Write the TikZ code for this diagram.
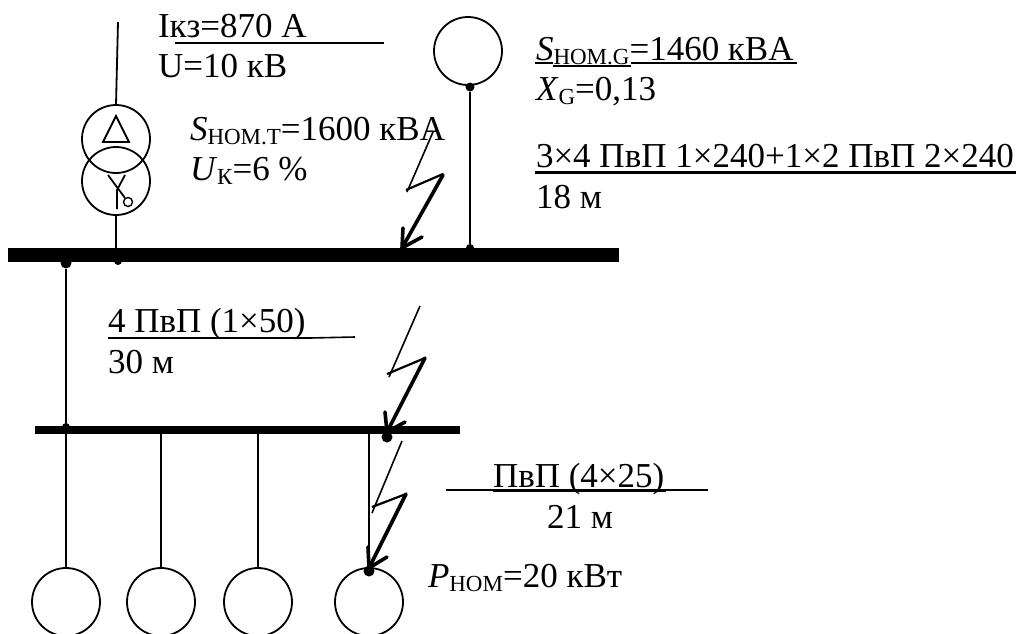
\documentclass[tikz,border=0pt]{standalone}
\usepackage{fontspec}
\setmainfont[Kerning=Off]{Liberation Serif}
\newcommand{\subt}[1]{\raisebox{-0.14em}{\fontsize{23}{25}\selectfont #1}}
\tikzset{
  lbl/.style={anchor=base west,inner sep=0pt,outer sep=0pt,font=\fontsize{35}{38}\selectfont},
  wire/.style={draw=black,line width=1.8pt},
  bus/.style={fill=black,draw=none},
  sym/.style={draw=black,line width=1.8pt,circle,minimum size=68pt,inner sep=0pt,outer sep=0pt},
  joint/.style={fill=black,draw=none,circle,inner sep=0pt},
  rule/.style={draw=black,line width=1.6pt},
  boldrule/.style={draw=black,line width=2.4pt},
  boltthin/.style={draw=black,line width=1.6pt},
  boltmid/.style={draw=black,line width=2.2pt},
  boltthick/.style={draw=black,line width=3.6pt,line cap=round,line join=round},
}
\begin{document}
\begin{tikzpicture}[x=1pt,y=-1pt]
\useasboundingbox (0,0) rectangle (1021,633);
% buses
\node[bus,anchor=north west,minimum width=611pt,minimum height=14pt,inner sep=0pt] (busa) at (8,248) {};
\node[bus,anchor=north west,minimum width=425pt,minimum height=8pt,inner sep=0pt] (busb) at (35,426) {};
% transformer
\coordinate (feed) at (118,22);
\node[sym] (tup) at (116,139) {};
\node[sym] (tlo) at (116,181) {};
\draw[wire] (feed) -- (tup.north);
\draw[wire] (tlo.south) -- (116,250);
\node[joint,minimum size=8pt] (ja) at (118,261) {};
\draw[wire,line join=miter] (116,116) -- (103,142) -- (129,142) -- cycle;
\node[draw=black,line width=1.4pt,circle,minimum size=9pt,inner sep=0pt] (ystar) at (128,202) {};
\draw[wire] (108,175) -- (ystar);
\draw[wire] (125,175) -- (117,190) -- (117,209);
% generator
\node[sym] (gen) at (468,51) {};
\node[joint,minimum size=9pt] (jg) at (470,87) {};
\node[joint,minimum size=8pt] (jgb) at (470,248) {};
\draw[wire] (jg) -- (jgb);
% links
\node[joint,minimum size=11pt] (jb) at (66,263) {};
\node[joint,minimum size=8pt] (jc) at (66,427) {};
\draw[wire] (jb) -- (jc);
\node[sym] (ma) at (66,602) {};
\node[sym] (mb) at (161,602) {};
\node[sym] (mc) at (258,602) {};
\node[sym] (md) at (369,602) {};
\draw[wire] (66,434) -- (ma.north);
\draw[wire] (161,434) -- (mb.north);
\draw[wire] (258,434) -- (mc.north);
\node[joint,minimum size=11pt] (jd) at (387,437) {};
\node[joint,minimum size=7pt] (je) at (425,430) {};
\node[joint,minimum size=11pt] (jf) at (369,571) {};
\draw[wire] (369,434) -- (jf);
% bolts
\draw[boltthin] (433,132) -- (407,192);
\draw[boltmid] (406,190) -- (443,174);
\draw[boltthick] (443,175) -- (402,248);
\draw[boltthick] (403,228) -- (402,248) -- (422,237);
\draw[boltthin] (420,306) -- (389,377);
\draw[boltmid] (387,374) -- (425,358);
\draw[boltthick] (425,358) -- (387,432);
\draw[boltthick] (385,412) -- (387,432) -- (405,422);
\draw[boltthin] (402,441) -- (372,513);
\draw[boltmid] (372,507) -- (406,494);
\draw[boltthick] (406,494) -- (369,568);
\draw[boltthick] (368,547) -- (369,568) -- (387,557);
% rules
\coordinate (r1a) at (175,43); \coordinate (r1b) at (384,43);
\draw[rule] (r1a) -- (r1b);
\coordinate (r2a) at (108,338); \coordinate (r2b) at (310,338); \coordinate (r2c) at (355,337);
\draw[boldrule] (r2a) -- (r2b);
\draw[rule] (r2b) -- (r2c);
\coordinate (r3a) at (446,490); \coordinate (r3b) at (708,490);
\coordinate (r3c) at (493,491); \coordinate (r3d) at (666,491);
\draw[rule] (r3a) -- (r3b);
\draw[boldrule] (r3c) -- (r3d);
\coordinate (r4a) at (535,63); \coordinate (r4b) at (553,63); \coordinate (r4c) at (553,66);
\coordinate (r4d) at (631,66); \coordinate (r4e) at (631,63); \coordinate (r4f) at (797,63);
\draw[boldrule] (r4a) -- (r4b);
\draw[rule] (r4c) -- (r4d);
\draw[boldrule] (r4e) -- (r4f);
\coordinate (r5a) at (535,172.5); \coordinate (r5b) at (1016,172.5);
\draw[boldrule] (r5a) -- (r5b);
% text
\node[lbl] (t1) at (158,37) {Iкз=870 А};
\node[lbl] (t2) at (158,77) {U=10 кВ};
\node[lbl] (t3) at (190,140) {\textit{S}\subt{НОМ.Т}=1600 кВА};
\node[lbl] (t4) at (190,180) {\textit{U}\subt{К}=6 \%};
\node[lbl] (t5) at (536,60) {\textit{S}\subt{НОМ.G}=1460 кВА};
\node[lbl] (t6) at (536,100) {\textit{X}\subt{G}=0,13};
\node[lbl] (t7) at (536,167) {3×4 ПвП 1×240+1×2 ПвП 2×240};
\node[lbl] (t8) at (536,208) {18 м};
\node[lbl] (t9) at (108,332) {4 ПвП (1×50)};
\node[lbl] (t10) at (108,373) {30 м};
\node[lbl] (t11) at (493,487) {ПвП (4×25)};
\node[lbl] (t12) at (547,528) {21 м};
\node[lbl] (t13) at (428,587) {\textit{P}\subt{НОМ}=20 кВт};
\end{tikzpicture}
\end{document}
